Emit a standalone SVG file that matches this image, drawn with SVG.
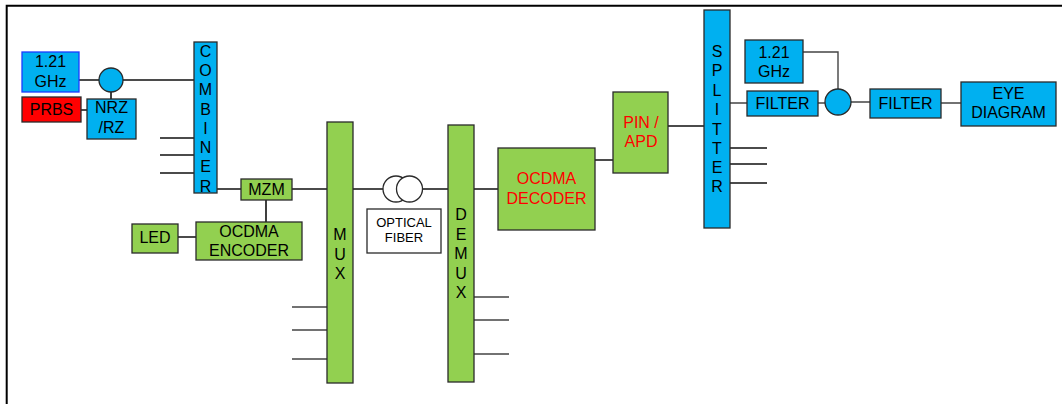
<svg xmlns="http://www.w3.org/2000/svg" width="1062" height="404" viewBox="0 0 1062 404">
<style>
  .blue{fill:#00B0F0;stroke:#2a2a2a;stroke-width:1.3}
  .green{fill:#92D050;stroke:#2a2a2a;stroke-width:1.3}
  .red{fill:#FF0000;stroke:#2a2a2a;stroke-width:1.3}
  .white{fill:#fff;stroke:#2a2a2a;stroke-width:1.3}
  text{font-family:"Liberation Sans",Arial,sans-serif;font-size:16px;fill:#000;text-anchor:middle}
  .rt{fill:#FF0000}
  .sm{font-size:13px}
  .ln{stroke:#111;stroke-width:1.6;fill:none}
  .lg{stroke:#444;stroke-width:1.4;fill:none}
</style>
<rect width="1062" height="404" fill="#fff"/>
<path d="M6.7 404 V5.8 H1062" fill="none" stroke="#000" stroke-width="2"/>
<g id="connectors">
  <path class="ln" d="M79 80 H99 M123 80 H195 M111 92 V99 M81 110 H87"/>
  <path class="ln" d="M160 138 H195 M160 155 H195 M160 173 H195"/>
  <path class="ln" d="M217 189 H241 M292 189 H327 M266 200 V222 M178 237 H196"/>
  <path class="lg" d="M292 307 H327 M292 330 H327 M292 359 H327"/>
  <path class="ln" d="M353 189 H384 M422 189 H448 M474 189 H498"/>
  <path class="lg" d="M474 297 H509 M474 320 H509 M474 354 H509"/>
  <path class="ln" d="M595 160 H613 M668 126 H704"/>
  <path class="ln" d="M730 148 H767 M730 164 H767 M730 183 H767"/>
  <path class="lg" d="M730 103 H747 M818 103 H825 M803 52 H838 V89 M851 102 H870 M941 103 H961"/>
</g>
<g id="ghz1"><rect x="22" y="52" width="57" height="40" fill="#00B0F0" stroke="#1a3cff" stroke-width="1.3"/><text x="50.5" y="67">1.21</text><text x="50.5" y="86.5">GHz</text></g>
<g id="prbs"><rect class="red" x="22" y="97" width="59" height="25"/><text x="51.5" y="115">PRBS</text></g>
<g id="mixer1"><circle class="blue" cx="111" cy="80" r="12"/></g>
<g id="nrz"><rect class="blue" x="87" y="99" width="49" height="40"/><text x="111.5" y="113">NRZ</text><text x="111.5" y="133">/RZ</text></g>
<g id="combiner"><rect class="blue" x="194" y="42" width="23" height="151"/>
  <text x="205.5" y="57">C</text><text x="205.5" y="75.5">O</text><text x="205.5" y="95">M</text><text x="205.5" y="114.5">B</text><text x="205.5" y="133.5">I</text><text x="205.5" y="153">N</text><text x="205.5" y="172">E</text><text x="205.5" y="191.5">R</text></g>
<g id="mzm"><rect class="green" x="241" y="179" width="51" height="21"/><text x="266.5" y="195">MZM</text></g>
<g id="encoder"><rect class="green" x="196" y="222" width="106" height="38"/><text x="249" y="237">OCDMA</text><text x="249" y="256">ENCODER</text></g>
<g id="led"><rect class="green" x="132" y="224" width="46" height="29"/><text x="155" y="243">LED</text></g>
<g id="mux"><rect class="green" x="327" y="122" width="26" height="261"/><text x="340" y="240">M</text><text x="340" y="260">U</text><text x="340" y="279">X</text></g>
<g id="fiber"><circle class="white" cx="396" cy="189" r="13"/><circle class="white" cx="409.5" cy="189" r="13"/></g>
<g id="fiberlabel"><rect class="white" x="367" y="209" width="74" height="44"/><text class="sm" x="404" y="227">OPTICAL</text><text class="sm" x="404" y="242">FIBER</text></g>
<g id="demux"><rect class="green" x="448" y="125" width="26" height="257"/><text x="461" y="220">D</text><text x="461" y="239.5">E</text><text x="461" y="259">M</text><text x="461" y="278.5">U</text><text x="461" y="298">X</text></g>
<g id="decoder"><rect class="green" x="498" y="148" width="97" height="82"/><text class="rt" x="546.5" y="184">OCDMA</text><text class="rt" x="546.5" y="204">DECODER</text></g>
<g id="pin"><rect class="green" x="613" y="92" width="55" height="81"/><text class="rt" x="641" y="128">PIN /</text><text class="rt" x="641" y="147">APD</text></g>
<g id="splitter"><rect class="blue" x="704" y="10" width="26" height="218"/>
  <text x="717" y="57">S</text><text x="717" y="76">P</text><text x="717" y="96">L</text><text x="717" y="115">I</text><text x="717" y="134.5">T</text><text x="717" y="154">T</text><text x="717" y="173">E</text><text x="717" y="192">R</text></g>
<g id="ghz2"><rect class="blue" x="745" y="40" width="58" height="43"/><text x="774" y="58">1.21</text><text x="774" y="77">GHz</text></g>
<g id="filter1"><rect class="blue" x="747" y="91" width="71" height="25"/><text x="782.5" y="109">FILTER</text></g>
<g id="mixer2"><circle class="blue" cx="838" cy="102" r="13"/></g>
<g id="filter2"><rect class="blue" x="870" y="89" width="71" height="29"/><text x="905.5" y="108.5">FILTER</text></g>
<g id="eye"><rect class="blue" x="961" y="82" width="95" height="44"/><text x="1008.5" y="99">EYE</text><text x="1008.5" y="118">DIAGRAM</text></g>
</svg>
